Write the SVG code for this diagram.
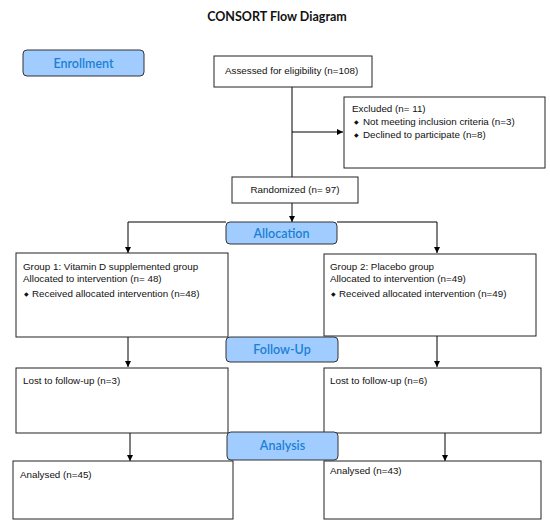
<svg xmlns="http://www.w3.org/2000/svg" width="550" height="531" viewBox="0 0 550 531">
<defs>
<marker id="ah" viewBox="0 0 10 10" refX="10" refY="5" markerWidth="6" markerHeight="6" orient="auto" markerUnits="userSpaceOnUse">
<path d="M0,0 L10,5 L0,10 z" fill="#000"/>
</marker>
<style>
.box{fill:#fff;stroke:#222;stroke-width:1}
.phase{fill:#a0ccff;stroke:#333;stroke-width:1}
.pt{font-family:Lato,"Open Sans",sans-serif;font-size:12.5px;font-weight:600;fill:#1c7fd4;text-anchor:middle}
.t{font-family:"Liberation Sans",Arial,sans-serif;font-size:9.8px;fill:#111}
.b{font-family:"Liberation Sans",Arial,sans-serif;font-size:5.5px;fill:#111}
.c{text-anchor:middle}
.ln{fill:none;stroke:#000;stroke-width:1}
.title{font-family:Lato,"Open Sans",sans-serif;font-weight:bold;font-size:12.5px;fill:#111;text-anchor:middle}
</style>
</defs>
<rect width="550" height="531" fill="#fff"/>
<text class="title" x="277" y="21">CONSORT Flow Diagram</text>

<g id="connectors">
<path class="ln" d="M292,87 V177"/>
<path class="ln" d="M292,132 H343" marker-end="url(#ah)"/>
<path class="ln" d="M292,203 V222" marker-end="url(#ah)"/>
<path class="ln" d="M226,222 H128 V253" marker-end="url(#ah)"/>
<path class="ln" d="M337,222 H437 V253" marker-end="url(#ah)"/>
<path class="ln" d="M128,337 V367" marker-end="url(#ah)"/>
<path class="ln" d="M437,336 V367" marker-end="url(#ah)"/>
<path class="ln" d="M130,433 V461" marker-end="url(#ah)"/>
<path class="ln" d="M445,433 V461" marker-end="url(#ah)"/>
</g>

<g id="enrollment">
<rect class="phase" x="23" y="50" width="121" height="26" rx="4"/>
<text class="pt" x="83.5" y="68">Enrollment</text>
</g>

<g id="assessed">
<rect class="box" x="214" y="56" width="158" height="31"/>
<text class="t" x="225" y="74">Assessed for eligibility (n=108)</text>
</g>

<g id="excluded">
<rect class="box" x="344" y="97" width="201" height="71"/>
<text class="t" x="352" y="112">Excluded (n= 11)</text>
<text class="b" x="354" y="124">◆</text>
<text class="t" x="363" y="125">Not meeting inclusion criteria (n=3)</text>
<text class="b" x="354" y="137">◆</text>
<text class="t" x="363" y="138">Declined to participate (n=8)</text>
</g>

<g id="randomized">
<rect class="box" x="232" y="177" width="126" height="26"/>
<text class="t c" x="295" y="193">Randomized (n= 97)</text>
</g>

<g id="allocation">
<rect class="phase" x="226" y="222" width="111" height="22" rx="4"/>
<text class="pt" x="281.5" y="238">Allocation</text>
</g>

<g id="group1">
<rect class="box" x="16" y="253" width="212" height="84"/>
<text class="t" x="23" y="270">Group 1: Vitamin D supplemented group</text>
<text class="t" x="23" y="282">Allocated to intervention (n= 48)</text>
<text class="b" x="24" y="296">◆</text>
<text class="t" x="32" y="297">Received allocated intervention (n=48)</text>
</g>

<g id="group2">
<rect class="box" x="324" y="254" width="212" height="82"/>
<text class="t" x="330" y="270">Group 2: Placebo group</text>
<text class="t" x="330" y="282">Allocated to intervention (n=49)</text>
<text class="b" x="331" y="296">◆</text>
<text class="t" x="339" y="297">Received allocated intervention (n=49)</text>
</g>

<g id="followup">
<rect class="phase" x="226" y="337" width="112" height="25" rx="4"/>
<text class="pt" x="282" y="354">Follow-Up</text>
</g>

<g id="lost1">
<rect class="box" x="16" y="368" width="212" height="65"/>
<text class="t" x="23" y="384">Lost to follow-up (n=3)</text>
</g>

<g id="lost2">
<rect class="box" x="324" y="368" width="217" height="65"/>
<text class="t" x="330" y="384">Lost to follow-up (n=6)</text>
</g>

<g id="analysis">
<rect class="phase" x="227" y="432" width="111" height="28" rx="4"/>
<text class="pt" x="282.5" y="450">Analysis</text>
</g>

<g id="analysed1">
<rect class="box" x="13" y="461" width="220" height="58"/>
<text class="t" x="20" y="478">Analysed (n=45)</text>
</g>

<g id="analysed2">
<rect class="box" x="324" y="461" width="217" height="58"/>
<text class="t" x="330" y="474">Analysed (n=43)</text>
</g>
</svg>
